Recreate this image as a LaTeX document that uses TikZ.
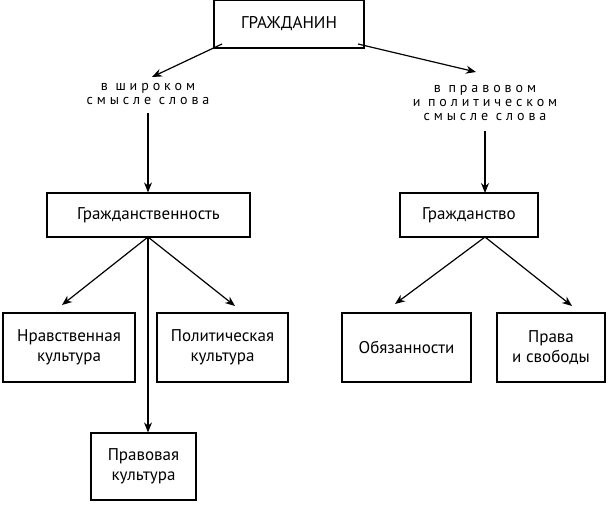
\documentclass[tikz,border=0pt]{standalone}
\usepackage{fontspec}
\setmainfont{PT Sans}
\usetikzlibrary{positioning,arrows.meta}
\tikzset{line/.style={draw,line width=1.2pt}}

\begin{document}
\begin{tikzpicture}[x=1pt,y=-1pt,
                box/.style = {draw, line width=1.2pt, align=center, font=\fontsize{17}{20}\selectfont},
                note/.style = {align=center, font=\fontsize{14}{14}\selectfont\addfontfeature{LetterSpace=28}},
                arr/.style = {line, -{Stealth[length=10pt,width=8pt]}}]
                \useasboundingbox (0,0) rectangle (610,504);
                \node[box, minimum width=150pt, minimum height=48pt] (citizen) at (289,24) {ГРАЖДАНИН};
                \node[note] (wide) at (148,94) {в широком\\смысле слова};
                \node[note] (legal) at (485,103) {в правовом\\и политическом\\смысле слова};
                \node[box, minimum width=203pt, minimum height=44pt] (civic) at (148.5,215) {Гражданственность};
                \node[box, minimum width=138pt, minimum height=44pt] (citizenship) at (469,215) {Гражданство};
                \node[box, minimum width=132pt, minimum height=69pt] (moral) at (69,347.5) {Нравственная\\культура};
                \node[box, minimum width=131pt, minimum height=69pt] (polit) at (222.5,347.5) {Политическая\\культура};
                \node[box, minimum width=105pt, minimum height=67pt] (legalc) at (143.5,466.5) {Правовая\\культура};
                \node[box, minimum width=129pt, minimum height=69pt] (duty) at (406.5,347.5) {Обязанности};
                \node[box, minimum width=108pt, minimum height=69pt] (rights) at (551,347.5) {Права\\и свободы};
                \coordinate (c1) at (222,44);
                \coordinate (c2) at (358,44);
                \coordinate (g1) at (148,237);
                \coordinate (g2) at (485,237);
                \path[arr] (c1) -- (152,77);
                \path[arr] (c2) -- (476,72);
                \path[arr] (148,113) -- (civic.north -| g1);
                \path[arr] (485,131) -- (485,193);
                \path[arr] (g1) -- (62,305);
                \path[arr] (g1) -- (legalc.north -| g1);
                \path[arr] (g1) -- (235,306);
                \path[arr] (g2) -- (395,304);
                \path[arr] (g2) -- (572,306);
\end{tikzpicture}
\end{document}
